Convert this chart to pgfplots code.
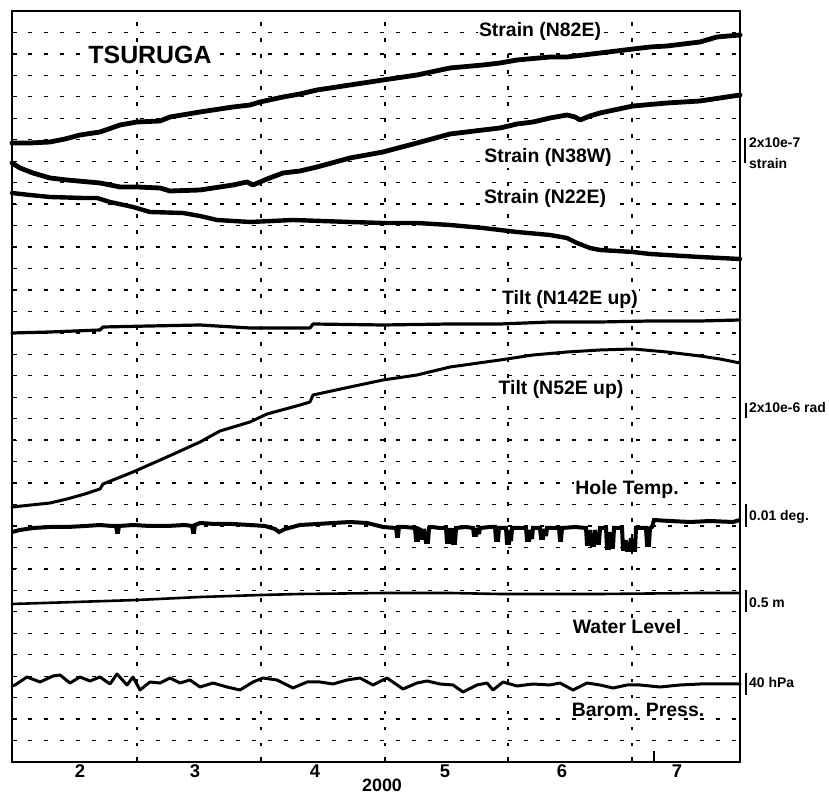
\documentclass[border=0pt]{standalone}
\usepackage{pgfplots}
\pgfplotsset{compat=1.18}
\usepackage{fontspec}
\setmainfont{Liberation Sans}
\begin{document}
\begin{tikzpicture}
\begin{axis}[
  width=728bp, height=751bp, scale only axis,
  xmin=12, xmax=740, ymin=-762, ymax=-11,
  clip=false,
  axis line style={line width=1.8bp},
  xtick={137,261,385,508,632}, xticklabels={},
  ytick={-740.54,-719.083,...,-32.4}, yticklabels={},
  xmajorgrids, ymajorgrids,
  major grid style={black, line width=1.3bp, dash pattern=on 3.5bp off 12.5bp},
  tick align=inside, xtick pos=bottom, ytick pos=left,
  major tick length=5bp, tick style={black, line width=1.2bp},
  extra x ticks={80,195,315,445,562,677},
  extra x tick labels={\textbf{2},\textbf{3},\textbf{4},\textbf{5},\textbf{6},\textbf{7}},
  extra x tick style={grid=none, major tick length=0pt},
  xticklabel style={font=\fontsize{18.5}{18.5}\selectfont\bfseries, yshift=1bp},
  every axis plot/.append style={black, line join=round, line cap=round, mark=none},
]
% Strain N82E
\addplot[line width=4.8bp] coordinates {(12,-143)(30,-143)(50,-142)(65,-139)(80,-135)(100,-132)(120,-125)(137,-122)(160,-121)(170,-117)(200,-112)(233,-107)(250,-105)(260,-102)(283,-97)(300,-94)(317,-90)(350,-85)(383,-80)(417,-75)(450,-68)(483,-65)(500,-63)(517,-60)(550,-57)(567,-57)(600,-53)(633,-49)(650,-47)(667,-46)(700,-42)(717,-37)(740,-35)};
% Strain N38W
\addplot[line width=4.8bp] coordinates {(12,-163)(20,-168)(33,-173)(50,-178)(67,-180)(100,-183)(120,-187)(137,-187)(160,-188)(170,-191)(200,-190)(233,-185)(247,-182)(253,-185)(267,-179)(283,-173)(300,-171)(317,-167)(350,-158)(383,-152)(417,-143)(450,-134)(483,-130)(500,-128)(517,-124)(533,-122)(550,-118)(567,-115)(575,-117)(580,-120)(590,-116)(600,-113)(633,-106)(667,-103)(700,-101)(720,-98)(740,-95)};
% Strain N22E
\addplot[line width=4.4bp] coordinates {(12,-193)(30,-195)(50,-197)(83,-198)(97,-198)(110,-202)(133,-207)(150,-212)(183,-213)(200,-216)(217,-220)(250,-222)(293,-220)(350,-222)(383,-223)(417,-223)(450,-225)(483,-228)(517,-232)(550,-235)(567,-238)(577,-243)(590,-248)(600,-250)(633,-252)(650,-254)(700,-257)(740,-259)};
% Tilt N142E
\addplot[line width=3.2bp] coordinates {(12,-333)(50,-332)(100,-330)(103,-327)(150,-326)(200,-325)(250,-328)(310,-328)(313,-324)(383,-325)(450,-324)(500,-324)(550,-322)(600,-322)(650,-321)(700,-321)(740,-320)};
% Tilt N52E
\addplot[line width=3bp] coordinates {(12,-507)(50,-503)(67,-499)(85,-494)(100,-489)(103,-484)(133,-472)(167,-457)(200,-442)(220,-431)(250,-422)(267,-414)(300,-405)(310,-402)(313,-395)(350,-387)(383,-380)(417,-375)(450,-367)(500,-360)(533,-355)(567,-352)(600,-350)(633,-349)(667,-352)(700,-356)(720,-359)(740,-363)};
% Hole Temp
\addplot[line width=4bp, line cap=butt, line join=miter, miter limit=2] coordinates {(12,-532)(20,-530)(33,-528)(50,-527)(67,-527)(85,-526)(100,-525)(112,-526)(116,-526)(117,-532)(118,-532)(119,-526)(133,-525)(150,-526)(167,-526)(185,-525)(192,-526)(193,-532)(194,-532)(195,-525)(200,-523)(215,-524)(233,-524)(250,-525)(265,-526)(275,-529)(279,-532)(285,-529)(300,-525)(317,-524)(333,-523)(350,-522)(367,-523)(383,-527)(396,-528)(397,-536)(398,-536)(399,-527)(405,-527)(415,-528)(416,-540)(418,-540)(419,-529)(421,-530)(422,-538)(423,-538)(424,-529)(426,-542)(428,-542)(429,-528)(432,-527)(440,-528)(446,-528)(447,-542)(449,-542)(450,-530)(452,-530)(453,-543)(455,-543)(456,-528)(466,-527)(473,-528)(474,-535)(476,-535)(477,-528)(479,-534)(480,-528)(490,-527)(495,-527)(496,-540)(498,-540)(499,-528)(506,-528)(507,-543)(509,-543)(510,-530)(511,-541)(512,-528)(520,-528)(526,-528)(527,-540)(529,-540)(530,-530)(532,-539)(533,-528)(540,-528)(541,-538)(543,-538)(544,-529)(546,-536)(547,-528)(559,-528)(560,-540)(561,-540)(562,-528)(575,-527)(586,-528)(587,-544)(589,-544)(590,-530)(592,-545)(594,-545)(595,-530)(597,-543)(599,-543)(600,-528)(606,-528)(607,-548)(609,-548)(610,-532)(611,-547)(613,-547)(614,-528)(622,-528)(623,-549)(625,-549)(626,-540)(627,-550)(630,-550)(631,-538)(633,-550)(635,-550)(636,-528)(646,-528)(647,-545)(649,-545)(650,-528)(652,-527)(654,-520)(670,-521)(690,-522)(710,-521)(733,-522)(740,-520)};
% Water Level
\addplot[line width=2.6bp] coordinates {(12,-604)(75,-602)(137,-600)(200,-597)(261,-595)(300,-594)(385,-593)(450,-593)(500,-594)(600,-594)(700,-593)(740,-593)};
% Barom. Press.
\addplot[line width=3bp] coordinates {(12,-686)(15,-685)(27,-677)(40,-682)(53,-676)(60,-675)(70,-683)(80,-677)(90,-681)(100,-677)(110,-684)(117,-674)(127,-685)(133,-677)(140,-690)(150,-682)(160,-683)(170,-678)(180,-683)(190,-680)(200,-687)(213,-683)(227,-687)(240,-690)(253,-682)(263,-678)(277,-680)(293,-688)(307,-682)(320,-682)(333,-684)(347,-680)(360,-678)(373,-685)(387,-678)(403,-689)(417,-683)(427,-681)(440,-684)(453,-685)(463,-692)(477,-685)(487,-683)(493,-690)(503,-682)(517,-686)(533,-684)(550,-685)(560,-683)(573,-690)(587,-683)(600,-685)(613,-688)(627,-685)(640,-685)(660,-687)(680,-685)(700,-684)(717,-684)(733,-684)(740,-684)};

% labels
\node[font=\fontsize{25}{25}\selectfont\bfseries, fill=white, inner sep=2bp] at (axis cs:150,-55) {TSURUGA};
\begin{scope}[every node/.style={font=\fontsize{19.5}{19.5}\selectfont\bfseries, fill=white, inner sep=1.5bp}]
\node at (axis cs:540,-31) {Strain (N82E)};
\node at (axis cs:548,-157) {Strain (N38W)};
\node at (axis cs:545,-198) {Strain (N22E)};
\node at (axis cs:570,-299) {Tilt (N142E up)};
\node at (axis cs:561,-389) {Tilt (N52E up)};
\node at (axis cs:627,-489) {Hole Temp.};
\node at (axis cs:627,-627) {Water Level};
\node at (axis cs:638,-710) {Barom. Press.};
\end{scope}
\node[font=\fontsize{18}{18}\selectfont\bfseries, anchor=base, inner sep=0pt] at (axis cs:382,-791) {2000};
% bottom extra tick
\draw[line width=1.5bp] (axis cs:654,-762) -- (axis cs:654,-751);
% scale bars
\draw[line width=2.5bp] (axis cs:745,-138) -- (axis cs:745,-163);
\draw[line width=2.5bp] (axis cs:746,-403) -- (axis cs:746,-418);
\draw[line width=2.5bp] (axis cs:746,-504) -- (axis cs:746,-527);
\draw[line width=2.5bp] (axis cs:746,-590) -- (axis cs:746,-612);
\draw[line width=2.5bp] (axis cs:746,-673) -- (axis cs:746,-695);
\begin{scope}[every node/.style={font=\fontsize{14}{14}\selectfont\bfseries, anchor=west, inner sep=0pt}]
\node at (axis cs:749,-143) {2x10e-7};
\node at (axis cs:749,-164) {strain};
\node at (axis cs:749,-408) {2x10e-6 rad};
\node at (axis cs:749,-517) {0.01 deg.};
\node at (axis cs:749,-603) {0.5 m};
\node at (axis cs:749,-683) {40 hPa};
\end{scope}
\coordinate (LL) at (axis cs:12,-762);
\coordinate (UR) at (axis cs:740,-11);
\end{axis}
\pgfresetboundingbox
\path[use as bounding box] (LL) ++(-12bp,-34bp) rectangle ([shift={(89bp,11bp)}]UR);
\end{tikzpicture}
\end{document}
